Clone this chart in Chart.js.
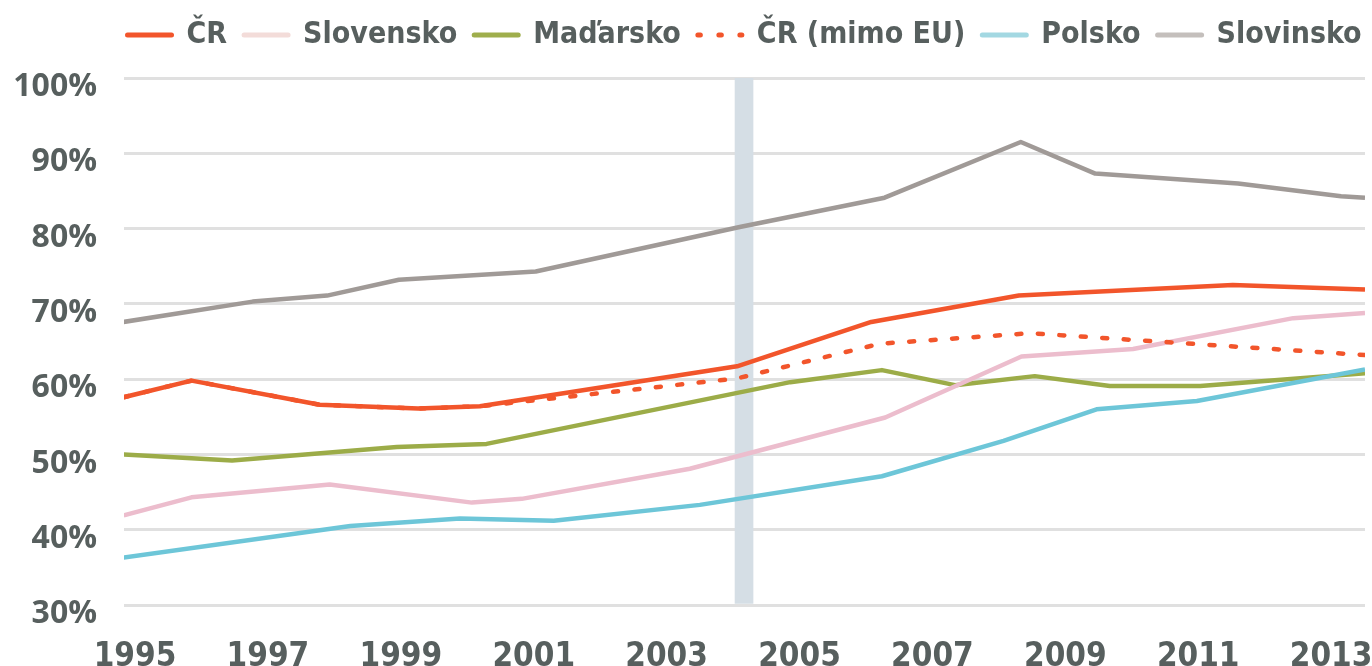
<!DOCTYPE html>
<html><head><meta charset="utf-8">
<script src="https://cdn.jsdelivr.net/npm/chart.js@4.4.1/dist/chart.umd.min.js"></script>
<style>html,body{margin:0;padding:0;background:#fff;} #wrap{width:1372px;height:666px;position:relative;}</style>
</head><body><div id="wrap"><canvas id="c" width="1372" height="666"></canvas></div>
<script>
// ---- data ----
const xTickYears = [1995,1997,1999,2001,2003,2005,2007,2009,2011,2013];
const seriesNames = ['ČR','Slovensko','Maďarsko','ČR (mimo EU)','Polsko','Slovinsko'];

const crX = [1994.83,1995.85,1997.78,1999.26,2000.19,2004.06,2006.08,2008.30,2011.52,2013.51];
const crY = [57.6,59.8,56.6,56.1,56.4,61.7,67.6,71.1,72.5,71.9];
const crNonEuX = [1994.83,1995.85,1997.78,1999.26,2000.19,2004.06,2006.21,2008.47,2013.51];
const crNonEuY = [57.6,59.8,56.6,56.1,56.4,60.1,64.7,66.1,63.2];
const skX = [1994.83,1995.85,1997.93,2000.07,2000.82,2003.35,2006.29,2008.34,2010.02,2012.43,2013.51];
const skY = [41.9,44.3,46.0,43.6,44.1,48.1,54.9,63.0,64.0,68.1,68.8];
const huX = [1994.83,1996.46,1998.94,2000.29,2004.86,2006.24,2007.34,2008.54,2009.67,2011.03,2013.51];
const huY = [50.0,49.2,51.0,51.4,59.6,61.2,59.2,60.4,59.1,59.1,60.8];
const plX = [1994.83,1998.24,1999.89,2001.30,2003.50,2006.24,2008.07,2009.47,2010.98,2013.51];
const plY = [36.3,40.5,41.5,41.2,43.3,47.1,51.8,56.0,57.1,61.3];
const siX = [1994.83,1996.77,1997.89,1998.97,2001.03,2004.10,2006.28,2008.33,2009.45,2011.60,2013.15,2013.51];
const siY = [67.6,70.3,71.1,73.2,74.3,80.2,84.1,91.5,87.3,86.0,84.3,84.1];
const euEntryYear = 2004.165;

// ---- styles ----
const lineColors = ['#f2552b','#ecbdcd','#9cac48','#f2552b','#6dc6d8','#a09a97'];
const legendColors = ['#f2552b','#f3dcd9','#9fae4c','#f2552b','#a3d8e2','#c4bfbc'];
const textColor = '#575f5e';

const pts = (xs, ys) => xs.map((x, i) => ({x: x, y: ys[i]}));
const lineDs = (i, xs, ys, order, extra) => Object.assign({
  type: 'line', label: seriesNames[i], data: pts(xs, ys),
  borderColor: lineColors[i], backgroundColor: lineColors[i],
  borderWidth: 4.5, pointRadius: 0, tension: 0, fill: false,
  borderJoinStyle: 'round', order: order
}, extra || {});

const datasets = [
  lineDs(0, crX, crY, 0),
  lineDs(1, skX, skY, 3),
  lineDs(2, huX, huY, 4),
  lineDs(3, crNonEuX, crNonEuY, 1, {borderDash: [5, 16.5], borderCapStyle: 'round'}),
  lineDs(4, plX, plY, 2),
  lineDs(5, siX, siY, 5),
  {type: 'bar', label: 'EU', data: [{x: euEntryYear, y: 100}], backgroundColor: '#d5dee5',
   barThickness: 18, base: 30, order: 10, grouped: false}
];

const fixLayout = {
  id: 'fixLayout',
  beforeInit(chart) {
    const lg = chart.legend;
    const f = lg.fit;
    lg.fit = function () { this.maxWidth = 4000; f.call(this); this.height = 78; };
  },
  afterLayout(chart) {
    const lg = chart.legend;
    const pad = lg.options.labels.padding;
    lg.left = 127.5 - pad;
    lg.right = 4000;
    lg.top = 3;
  }
};

new Chart(document.getElementById('c'), {
  type: 'line',
  data: {datasets: datasets},
  plugins: [fixLayout],
  options: {
    responsive: false,
    animation: false,
    layout: {padding: {left: 0, right: 7, top: 0, bottom: 0}},
    plugins: {
      tooltip: {enabled: false},
      legend: {
        position: 'top', align: 'start',
        labels: {
          usePointStyle: true, pointStyle: 'line', pointStyleWidth: 44, padding: 17,
          color: textColor,
          font: {family: "'DejaVu Sans Condensed', 'DejaVu Sans', sans-serif", weight: 'bold', size: 30},
          generateLabels(chart) {
            const items = Chart.defaults.plugins.legend.labels.generateLabels(chart);
            return items.filter(it => it.datasetIndex < 6)
              .sort((a, b) => a.datasetIndex - b.datasetIndex)
              .map(it => Object.assign({}, it, {
                strokeStyle: legendColors[it.datasetIndex], fillStyle: legendColors[it.datasetIndex],
                lineWidth: 5, lineCap: 'round', pointStyle: 'line',
                lineDash: it.datasetIndex === 3 ? [2.5, 18.5] : [], fontColor: textColor
              }));
          }
        }
      }
    },
    scales: {
      x: {
        type: 'linear', min: 1994.834, max: 2013.51, offset: false,
        grid: {display: false}, border: {display: false},
        afterBuildTicks(scale) { scale.ticks = xTickYears.map(v => ({value: v})); },
        afterFit(scale) { scale.height = 61; scale.paddingLeft = 0; scale.paddingRight = 0; },
        ticks: {
          autoSkip: false, maxRotation: 0, minRotation: 0, padding: 28, color: textColor,
          font: {family: "'Liberation Sans Narrow', 'DejaVu Sans Condensed', sans-serif", weight: 'bold', size: 33, lineHeight: 1},
          callback: v => String(v)
        }
      },
      y: {
        type: 'linear', min: 30, max: 100,
        grid: {color: '#e0e0e0', lineWidth: 3, drawTicks: false}, border: {display: false},
        afterFit(scale) { scale.width = 124; scale.paddingTop = 0; scale.paddingBottom = 0; },
        ticks: {
          stepSize: 10, padding: 27, labelOffset: 9, color: textColor,
          font: {family: "'Open Sans', sans-serif", weight: 'bold', size: 32, lineHeight: 1},
          callback: v => v + '%'
        }
      }
    }
  }
});
</script>
</body></html>
